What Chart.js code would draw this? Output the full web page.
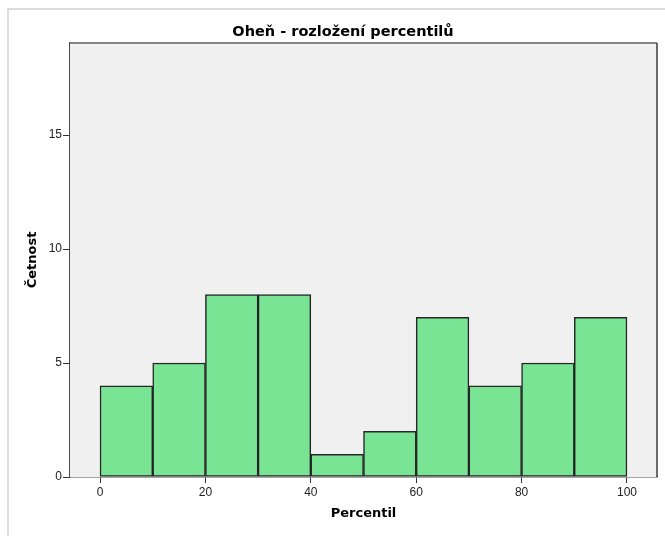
<!DOCTYPE html>
<html>
<head>
<meta charset="utf-8">
<script src="https://cdn.jsdelivr.net/npm/chart.js@4"></script>
<style>
  body { margin: 0; background: #fff; }
  #wrap { position: relative; width: 665px; height: 536px; overflow: hidden; }
  #frame { position: absolute; left: 7px; top: 8px; width: 700px; height: 600px;
           border-left: 2px solid #dcdcdc; border-top: 2px solid #dcdcdc; }
  #myChart { position: absolute; left: 0; top: 0; }
</style>
</head>
<body>
<div id="wrap">
  <div id="frame"></div>
  <canvas id="myChart" width="665" height="536"></canvas>
</div>
<script>
const binCenters = [5, 15, 25, 35, 45, 55, 65, 75, 85, 95];
const counts = [4, 5, 8, 8, 1, 2, 7, 4, 5, 7];
const xTicks = [0, 20, 40, 60, 80, 100];
const yTicks = [0, 5, 10, 15];

const plotFrame = {
  id: "plotFrame",
  beforeDatasetsDraw(chart) {
    const { ctx, chartArea: a } = chart;
    ctx.save();
    ctx.fillStyle = "#f0f0f0";
    ctx.fillRect(a.left, a.top, a.right - a.left, a.bottom - a.top);
    ctx.restore();
  },
  afterDraw(chart) {
    const { ctx, chartArea: a } = chart;
    ctx.save();
    ctx.strokeStyle = "#858585";
    ctx.lineWidth = 2;
    ctx.beginPath();
    ctx.moveTo(a.left, a.top);
    ctx.lineTo(a.right, a.top);
    ctx.stroke();
    ctx.strokeStyle = "#3c3c3c";
    ctx.lineWidth = 1.5;
    ctx.beginPath();
    ctx.moveTo(a.right, a.top);
    ctx.lineTo(a.right, a.bottom);
    ctx.stroke();
    ctx.restore();
  },
};

const ctx = document.getElementById("myChart").getContext("2d");
new Chart(ctx, {
  type: "bar",
  data: {
    datasets: [
      {
        data: binCenters.map((x, i) => ({ x: x, y: counts[i] })),
        backgroundColor: "#7ae495",
        borderColor: "#262626",
        borderWidth: 1.5,
        borderSkipped: false,
        barPercentage: 1,
        categoryPercentage: 1,
      },
    ],
  },
  options: {
    responsive: false,
    animation: false,
    layout: { padding: { left: 29, right: 8, top: 0, bottom: 0 } },
    plugins: {
      legend: { display: false },
      tooltip: { enabled: false },
      title: {
        display: true,
        text: "Oheň - rozložení percentilů",
        color: "#000",
        font: { family: "DejaVu Sans", size: 14.5, weight: "bold" },
        padding: { top: 24, bottom: 1.6 },
      },
    },
    scales: {
      x: {
        type: "linear",
        min: -5.7,
        max: 105.7,
        offset: false,
        afterBuildTicks: (s) => { s.ticks = xTicks.map((v) => ({ value: v })); },
        afterFit: (s) => { s.height = 59; },
        ticks: {
          color: "#222",
          font: { family: "Liberation Sans", size: 12 },
          padding: 2,
          maxRotation: 0,
        },
        grid: { offset: false, drawOnChartArea: false, drawTicks: true, tickLength: 6, color: "#333" },
        border: { color: "#4a4a4a", width: 1.5 },
        title: {
          display: true,
          text: "Percentil",
          color: "#000",
          font: { family: "DejaVu Sans", size: 13, weight: "bold" },
          padding: { top: 0, bottom: 14.2 },
        },
      },
      y: {
        min: 0,
        max: 19.04,
        afterBuildTicks: (s) => { s.ticks = yTicks.map((v) => ({ value: v })); },
        afterFit: (s) => { s.width = 41; },
        ticks: {
          color: "#222",
          font: { family: "Liberation Sans", size: 12 },
          padding: 1,
        },
        grid: { drawOnChartArea: false, drawTicks: true, tickLength: 7, color: "#333" },
        border: { color: "#4a4a4a", width: 1.5 },
        title: {
          display: true,
          text: "Četnost",
          color: "#000",
          font: { family: "DejaVu Sans", size: 13, weight: "bold" },
          padding: { top: -3.8, bottom: 0 },
        },
      },
    },
  },
  plugins: [plotFrame],
});
</script>
</body>
</html>
